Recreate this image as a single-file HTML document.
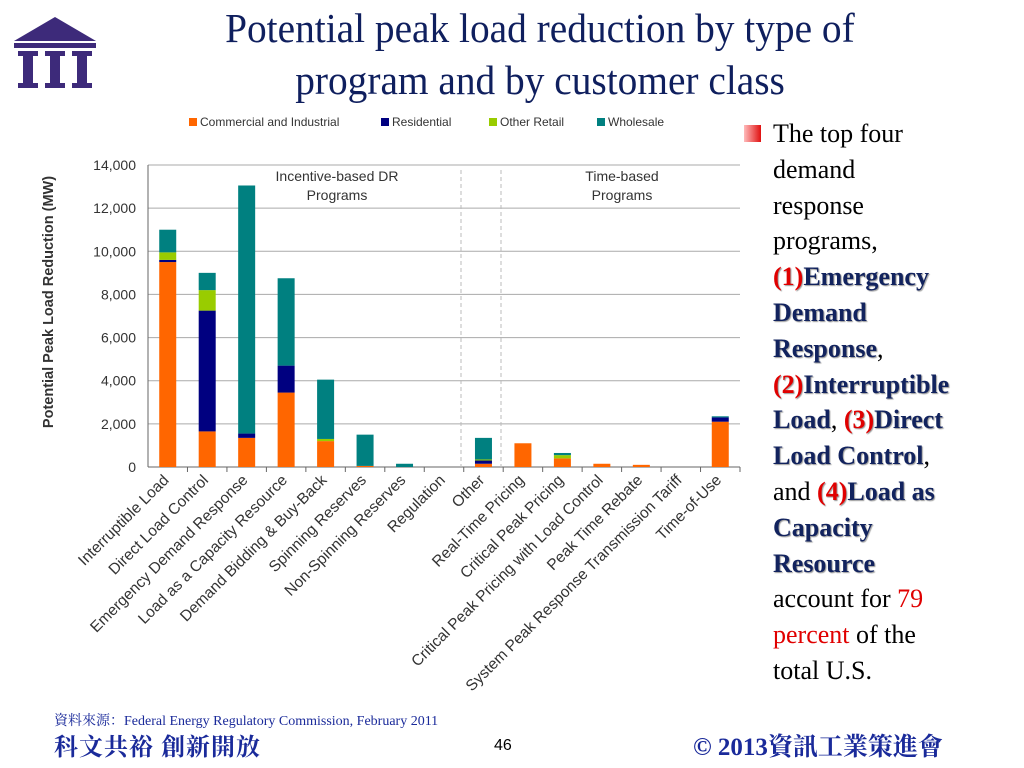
<!DOCTYPE html>
<html><head><meta charset="utf-8"><style>
html,body{margin:0;padding:0;background:#fff}
body{width:1024px;height:768px;position:relative;overflow:hidden;font-family:"Liberation Serif",serif}
.title{position:absolute;left:110px;top:2px;width:860px;text-align:center;font-size:41px;line-height:52px;color:#0f1f5e}
.title span{display:inline-block;transform:scaleX(0.96);transform-origin:center;white-space:nowrap}
.side{position:absolute;left:773px;top:116px;width:250px;font-size:26px;line-height:35.8px;color:#000;white-space:nowrap}
.side b{color:#12235e;text-shadow:1px 1px 1px #999}
.side .r{color:#e00000}
.bullet{position:absolute;left:744px;top:125px;width:17px;height:17px;background:linear-gradient(90deg,#fbb,#e01010)}
.src{position:absolute;left:54px;top:710px;font-size:14px;color:#1a2a9a;font-family:"Liberation Serif","Noto Serif CJK SC",serif}
.motto{position:absolute;left:54px;top:727px;font-size:24px;font-weight:bold;color:#1a2a9a;font-family:"Liberation Serif","Noto Serif CJK SC",serif;letter-spacing:1px}
.pg{position:absolute;left:494px;top:737px;font-size:16px;font-family:"Liberation Sans",sans-serif}
.copy{position:absolute;left:693px;top:727px;font-size:25px;font-weight:bold;color:#1a2a9a;font-family:"Liberation Serif","Noto Serif CJK SC",serif}
</style></head><body>
<svg style="position:absolute;left:12px;top:15px" width="86" height="75" viewBox="0 0 86 75">
<polygon points="43,2 84,26 2,26" fill="#3d2a7a"/>
<rect x="2" y="28" width="82" height="5" fill="#3d2a7a"/>
<rect x="6" y="36" width="20" height="5" fill="#3d2a7a"/><rect x="11" y="41" width="10" height="28" fill="#3d2a7a"/><rect x="6" y="68" width="20" height="5" fill="#3d2a7a"/>
<rect x="33" y="36" width="20" height="5" fill="#3d2a7a"/><rect x="38" y="41" width="10" height="28" fill="#3d2a7a"/><rect x="33" y="68" width="20" height="5" fill="#3d2a7a"/>
<rect x="60" y="36" width="20" height="5" fill="#3d2a7a"/><rect x="65" y="41" width="10" height="28" fill="#3d2a7a"/><rect x="60" y="68" width="20" height="5" fill="#3d2a7a"/>
</svg>
<div class="title"><span>Potential peak load reduction by type of</span><br><span>program and by customer class</span></div>
<svg id="chart" style="position:absolute;left:0;top:0" width="1024" height="768"></svg>
<div class="bullet"></div>
<div class="side">The top four<br>demand<br>response<br>programs,<br><b><span class="r">(1)</span>Emergency<br>Demand<br>Response</b>,<br><b><span class="r">(2)</span>Interruptible<br>Load</b>, <b><span class="r">(3)</span>Direct<br>Load Control</b>,<br>and <b><span class="r">(4)</span>Load as<br>Capacity<br>Resource</b><br>account for <span class="r" style="text-shadow:none">79</span><br><span class="r" style="text-shadow:none">percent</span> of the<br>total U.S.</div>
<div class="src">資料來源：Federal Energy Regulatory Commission, February 2011</div>
<div class="motto">科文共裕 創新開放</div>
<div class="pg">46</div>
<div class="copy">© 2013資訊工業策進會</div>
<script>
const categories=["Interruptible Load","Direct Load Control","Emergency Demand Response","Load as a Capacity Resource","Demand Bidding & Buy-Back","Spinning Reserves","Non-Spinning Reserves","Regulation","Other","Real-Time Pricing","Critical Peak Pricing","Critical Peak Pricing with Load Control","Peak Time Rebate","System Peak Response Transmission Tariff","Time-of-Use"];
const commercial=[9500,1650,1350,3450,1200,50,0,0,150,1100,400,150,100,0,2100];
const residential=[100,5600,200,1250,0,0,0,0,150,0,0,0,0,0,200];
const otherRetail=[350,950,0,0,100,0,0,0,50,0,150,0,0,0,0];
const wholesale=[1050,800,11500,4050,2750,1450,150,0,1000,0,100,0,0,0,50];
const yTicks=[0,2000,4000,6000,8000,10000,12000,14000];
const seriesNames=["Commercial and Industrial","Residential","Other Retail","Wholesale"];
const colors=["#ff6600","#000080","#99cc00","#008080"];
const svg=document.getElementById('chart');const NS="http://www.w3.org/2000/svg";
const x0=148,x1=740,yB=467,yT=165,yMax=14000;
const band=(x1-x0)/categories.length;
const y=v=>yB-(v/yMax)*(yB-yT);
const xc=i=>x0+band*(i+0.5);
function mk(t,a,p){const e=document.createElementNS(NS,t);for(const k in a)e.setAttribute(k,a[k]);(p||svg).appendChild(e);return e;}
yTicks.forEach(v=>{
 const l=mk('line',{x1:x0,x2:x1,y1:y(v),y2:y(v),stroke:v?'#aaa':'#666','stroke-width':1});
 
 
 const t=mk('text',{x:x0-12,y:y(v)+5,'text-anchor':'end','font-size':14,'font-family':'Liberation Sans, sans-serif',fill:'#333'});
 t.textContent=v.toLocaleString('en-US');
 
 
});
const ax=mk('line',{x1:x0,x2:x0,y1:yT,y2:yB,stroke:'#666'});


[461,501].forEach(dx=>{const d=mk('line',{x1:dx,x2:dx,y1:170,y2:yB,stroke:'#bbb','stroke-dasharray':'4,3'});
 
 });
const series=[commercial,residential,otherRetail,wholesale];
categories.forEach((c,i)=>{
 let acc=0;
 series.forEach((s,k)=>{ if(s[i]>0){const r=mk('rect',{x:xc(i)-8.5,width:17,y:y(acc+s[i]),height:y(acc)-y(acc+s[i]),fill:colors[k]});
  
  
  acc+=s[i];}});
 const tk=mk('line',{x1:x0+band*(i+1),x2:x0+band*(i+1),y1:yB,y2:yB+5,stroke:'#666'});
 
 
 const t=mk('text',{x:xc(i)+2,y:yB+14,'text-anchor':'end','font-size':15.5,'font-family':'Liberation Sans, sans-serif',fill:'#333',transform:`rotate(-45 ${xc(i)+2} ${yB+14})`});
 t.textContent=c;
 
 
});
const yt=mk('text',{x:53,y:302,'text-anchor':'middle','font-size':14.5,'font-weight':'bold','font-family':'Liberation Sans, sans-serif',fill:'#333',transform:'rotate(-90 53 302)'});
yt.textContent='Potential Peak Load Reduction (MW)';


[["Incentive-based DR",337,181],["Programs",337,200],["Time-based",622,181],["Programs",622,200]].forEach(a=>{
 const t=mk('text',{x:a[1],y:a[2],'text-anchor':'middle','font-size':14,'font-family':'Liberation Sans, sans-serif',fill:'#333'});
 t.textContent=a[0];
 
 
});
const lx=[189,381,489,597];
seriesNames.forEach((n,k)=>{
 const r=mk('rect',{x:lx[k],y:118,width:8,height:8,fill:colors[k]});
 
 
 const t=mk('text',{x:lx[k]+11,y:126,'font-size':12,'font-family':'Liberation Sans, sans-serif',fill:'#333'});
 t.textContent=n;
 
 
});
</script>
</body></html>
